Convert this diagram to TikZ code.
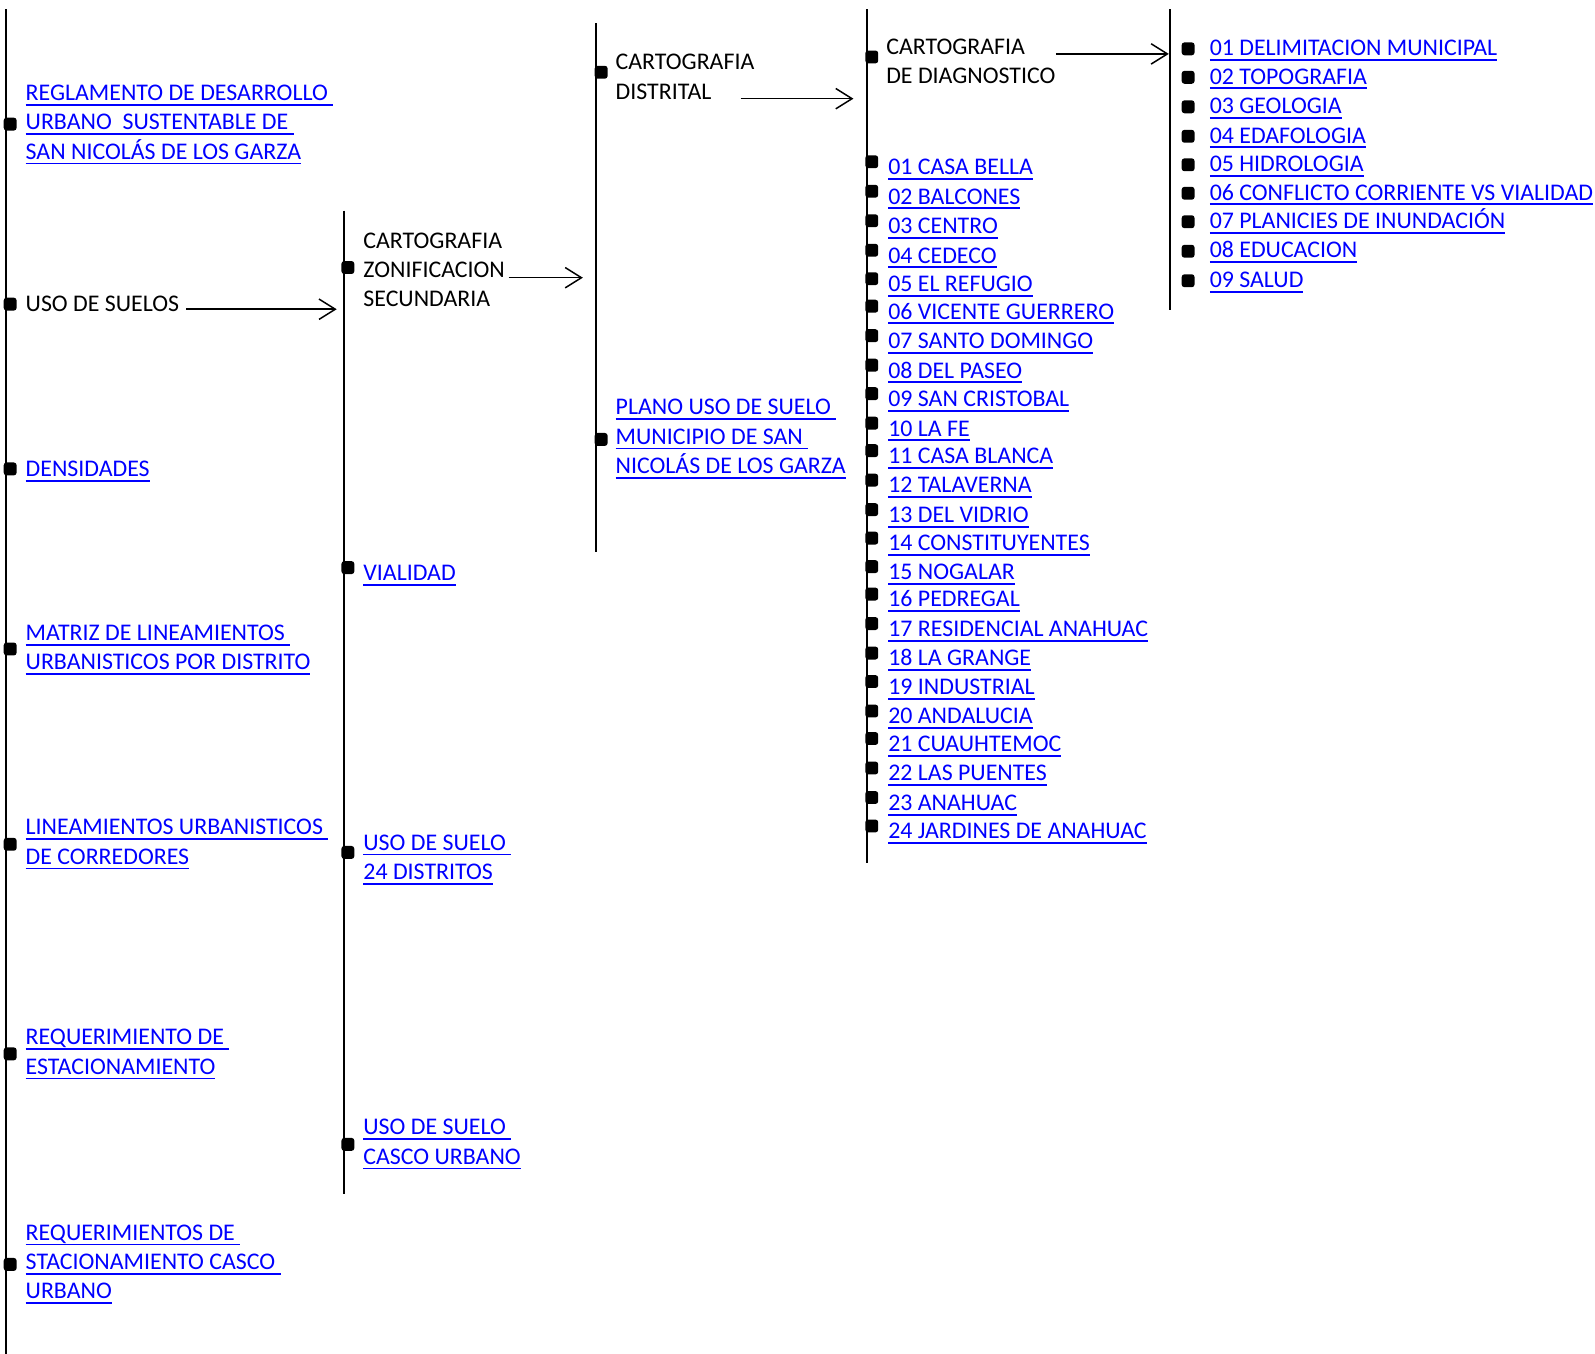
\documentclass[tikz,border=0pt]{standalone}
\usepackage{fontspec}
\setmainfont{Carlito}
\usetikzlibrary{arrows.meta}
\definecolor{linkblue}{RGB}{0,0,255}
\newcommand\fs{\fontsize{17.6}{21.6}\selectfont}
\newcommand\lk[1]{\setbox0\hbox{#1}\rlap{\rule[-3.8pt]{\wd0}{1.3pt}}\box0\strut}
\tikzset{
  txt/.style={font=\fs, inner sep=0pt, anchor=west, align=left, text=black, yshift=-1.4pt},
  lnk/.style={txt, text=linkblue, color=linkblue},
  bul/.style={fill=black, draw=none, rounded corners=2pt, minimum width=9.5pt, minimum height=9.5pt, inner sep=0pt},
  vline/.style={line width=1.4pt, black},
  arr/.style={line width=1.1pt, -{Straight Barb[length=12pt,width=15pt,line width=1.1pt]}}
}
\begin{document}
\begin{tikzpicture}[x=0.75pt,y=-0.75pt]
\useasboundingbox (0,0) rectangle (1568,1331);
% vertical lines
\coordinate (l1t) at (6,9);    \coordinate (l1b) at (6,1331);
\coordinate (l2t) at (338,207);\coordinate (l2b) at (338,1174);
\coordinate (l3t) at (586,23); \coordinate (l3b) at (586,543);
\coordinate (l4t) at (852,9);  \coordinate (l4b) at (852,848);
\coordinate (l5t) at (1150,9); \coordinate (l5b) at (1150,305);
\draw[vline] (l1t) -- (l1b);
\draw[vline] (l2t) -- (l2b);
\draw[vline] (l3t) -- (l3b);
\draw[vline] (l4t) -- (l4b);
\draw[vline] (l5t) -- (l5b);
% column 1
\node[bul] (b-reg) at (10,122) {};
\node[lnk] (reg) at (25,120) {\lk{REGLAMENTO DE DESARROLLO\ }\\\lk{URBANO\ \ SUSTENTABLE DE\ }\\\lk{SAN NICOLÁS DE LOS GARZA}};
\node[bul] (b-uso) at (10,299) {};
\node[txt] (uso) at (25,299) {USO DE SUELOS\strut};
\node[bul] (b-dens) at (10,461) {};
\node[lnk] (dens) at (25,461) {\lk{DENSIDADES}};
\node[bul] (b-mat) at (10,638) {};
\node[lnk] (mat) at (25,636.5) {\lk{MATRIZ DE LINEAMIENTOS\ }\\\lk{URBANISTICOS POR DISTRITO}};
\node[bul] (b-lin) at (10,830) {};
\node[lnk] (lin) at (25,827.5) {\lk{LINEAMIENTOS URBANISTICOS\ }\\\lk{DE CORREDORES}};
\node[bul] (b-req) at (10,1036) {};
\node[lnk] (req) at (25,1034) {\lk{REQUERIMIENTO DE\ }\\\lk{ESTACIONAMIENTO}};
\node[bul] (b-reqs) at (10,1243) {};
\node[lnk] (reqs) at (25,1240.5) {\lk{REQUERIMIENTOS DE\ }\\\lk{STACIONAMIENTO CASCO\ }\\\lk{URBANO}};
% column 2
\node[bul] (b-czon) at (342,263) {};
\node[txt] (czon) at (357,265) {CARTOGRAFIA\strut\\ZONIFICACION\strut\\SECUNDARIA\strut};
\node[bul] (b-vial) at (342,558) {};
\node[lnk] (vial) at (357,563) {\lk{VIALIDAD}};
\node[bul] (b-u24) at (342,838) {};
\node[lnk] (u24) at (357,842.5) {\lk{USO DE SUELO\ }\\\lk{24 DISTRITOS}};
\node[bul] (b-ucas) at (342,1125) {};
\node[lnk] (ucas) at (357,1122.5) {\lk{USO DE SUELO\ }\\\lk{CASCO URBANO}};
% column 3
\node[bul] (b-cdis) at (591,71) {};
\node[txt] (cdis) at (605,75.5) {CARTOGRAFIA\strut\\DISTRITAL\strut};
\node[bul] (b-plano) at (591,432) {};
\node[lnk] (plano) at (605,429) {\lk{PLANO USO DE SUELO\ }\\\lk{MUNICIPIO DE SAN\ }\\\lk{NICOLÁS DE LOS GARZA}};
% column 4
\node[bul] (b-cdiag) at (857,56) {};
\node[txt] (cdiag) at (871,60.5) {CARTOGRAFIA\strut\\DE DIAGNOSTICO\strut};
\foreach \i/\y/\t in {1/164/01 CASA BELLA,2/193/02 BALCONES,3/222/03 CENTRO,4/251/04 CEDECO,5/279/05 EL REFUGIO,6/306/06 VICENTE GUERRERO,7/335/07 SANTO DOMINGO,8/364/08 DEL PASEO,9/392/09 SAN CRISTOBAL,10/421/10 LA FE,11/448/11 CASA BLANCA,12/477/12 TALAVERNA,13/506/13 DEL VIDRIO,14/534/14 CONSTITUYENTES,15/562/15 NOGALAR,16/589/16 PEDREGAL,17/618/17 RESIDENCIAL ANAHUAC,18/647/18 LA GRANGE,19/675/19 INDUSTRIAL,20/704/20 ANDALUCIA,21/731/21 CUAUHTEMOC,22/760/22 LAS PUENTES,23/789/23 ANAHUAC,24/817/24 JARDINES DE ANAHUAC}{
  \node[bul] (b-d\i) at (857,\y-5) {};
  \node[lnk] (d\i) at (873,\y) {\lk{\t}};
}
% column 5
\foreach \i/\y/\t in {1/47/01 DELIMITACION MUNICIPAL,2/75/02 TOPOGRAFIA,3/104/03 GEOLOGIA,4/133/04 EDAFOLOGIA,5/161/05 HIDROLOGIA,6/189/06 CONFLICTO CORRIENTE VS VIALIDAD,7/217/07 PLANICIES DE INUNDACIÓN,8/246/08 EDUCACION,9/275/09 SALUD}{
  \node[bul] (b-h\i) at (1168,\y+1) {};
  \node[lnk] (h\i) at (1189,\y) {\lk{\t}};
}
% arrows
\coordinate (a1s) at (183,304); \coordinate (a1e) at (331,304);
\coordinate (a2s) at (500,273); \coordinate (a2e) at (573,273);
\coordinate (a3s) at (728,97);  \coordinate (a3e) at (839,97);
\coordinate (a4s) at (1038,53); \coordinate (a4e) at (1149,53);
\draw[arr] (a1s) -- (a1e);
\draw[arr] (a2s) -- (a2e);
\draw[arr] (a3s) -- (a3e);
\draw[arr] (a4s) -- (a4e);
\end{tikzpicture}
\end{document}
